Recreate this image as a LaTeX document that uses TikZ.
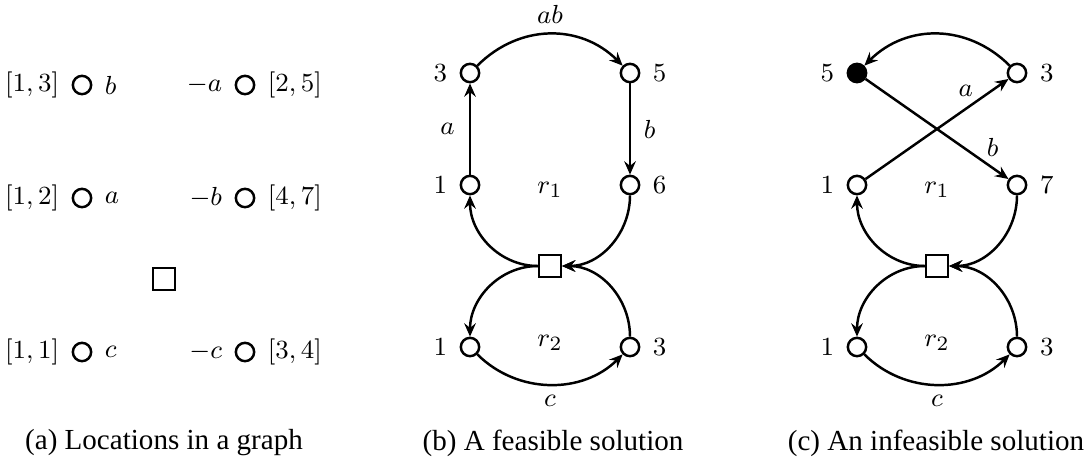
\documentclass[tikz,border=0pt]{standalone}
\usepackage[no-math]{fontspec}
\newfontfamily\capfont{Liberation Serif}
\usetikzlibrary{arrows.meta}
\begin{document}
\begin{tikzpicture}[x=0.344pt,y=-0.344pt,
  every node/.style={font=\fontsize{9.4}{11}\selectfont},
  loc/.style={circle,draw,line width=0.85pt,minimum size=6.3pt,inner sep=0pt},
  depot/.style={rectangle,draw,line width=0.85pt,minimum size=7.4pt,inner sep=0pt},
  edge/.style={line width=0.85pt,-{Stealth[length=4.6pt,width=4pt,inset=1.6pt]}},
  captext/.style={font=\capfont\fontsize{10}{12}\selectfont},
  label distance=0.8pt]
\useasboundingbox (0,0) rectangle (1089,468);
% panel a
\node[loc,label=left:{$[1,3]$},label=right:{$b$}] (ab) at (82,85) {};
\node[loc,label=left:{$-a$},label=right:{$[2,5]$}] (ama) at (245,85) {};
\node[loc,label=left:{$[1,2]$},label=right:{$a$}] (aa) at (82,198) {};
\node[loc,label=left:{$-b$},label=right:{$[4,7]$}] (amb) at (245,198) {};
\node[depot] (asq) at (164,279) {};
\node[loc,label=left:{$[1,1]$},label=right:{$c$}] (ac) at (82,352) {};
\node[loc,label=left:{$-c$},label=right:{$[3,4]$}] (amc) at (245,352) {};
\node[captext] (capa) at (164,443) {(a) Locations in a graph};
% panel b
\node[loc,label=left:$3$] (b3) at (470,73) {};
\node[loc,label=right:$5$] (b5) at (630,73) {};
\node[loc,label=left:$1$] (b1) at (470,185) {};
\node[loc,label=right:$6$] (b6) at (630,185) {};
\node[depot] (bsq) at (550,266) {};
\node[loc,label=left:$1$] (b1l) at (470,347) {};
\node[loc,label=right:$3$] (b3l) at (630,347) {};
\node (br1) at (550,190) {$r_1$};
\node (br2) at (550,343) {$r_2$};
\draw[edge] (b1) -- node[left=1.5pt] {$a$} (b3);
\draw[edge] (b3) to[out=45,in=135,looseness=1.05] node[above] {$ab$} (b5);
\draw[edge] (b5) -- node[right=1pt] {$b$} (b6);
\draw[edge] (bsq.west) to[out=180,in=-90] (b1.south);
\draw[edge] (b6.south) to[out=-90,in=0] (bsq.east);
\draw[edge] (bsq.west) to[out=180,in=90] (b1l.north);
\draw[edge] (b3l.north) to[out=90,in=0] (bsq.east);
\draw[edge] (b1l) to[out=-45,in=-135] node[below] {$c$} (b3l);
\node[captext] (capb) at (553,443) {(b) A feasible solution};
% panel c
\node[loc,fill=black,label=left:$5$] (c5) at (857,73) {};
\node[loc,label=right:$3$] (c3) at (1017,73) {};
\node[loc,label=left:$1$] (c1) at (857,185) {};
\node[loc,label=right:$7$] (c7) at (1017,185) {};
\node[depot] (csq) at (937,266) {};
\node[loc,label=left:$1$] (c1l) at (857,347) {};
\node[loc,label=right:$3$] (c3l) at (1017,347) {};
\node (cr1) at (937,190) {$r_1$};
\node (cr2) at (937,343) {$r_2$};
\draw[edge] (c1) -- node[pos=0.78,above left,inner sep=1pt] {$a$} (c3);
\draw[edge] (c5) -- node[pos=0.82,above right,inner sep=1pt] {$b$} (c7);
\draw[edge] (c3) to[out=135,in=45,looseness=1.05] (c5);
\draw[edge] (csq.west) to[out=180,in=-90] (c1.south);
\draw[edge] (c7.south) to[out=-90,in=0] (csq.east);
\draw[edge] (csq.west) to[out=180,in=90] (c1l.north);
\draw[edge] (c3l.north) to[out=90,in=0] (csq.east);
\draw[edge] (c1l) to[out=-45,in=-135] node[below] {$c$} (c3l);
\node[captext] (capc) at (936,443) {(c) An infeasible solution};
\end{tikzpicture}
\end{document}
